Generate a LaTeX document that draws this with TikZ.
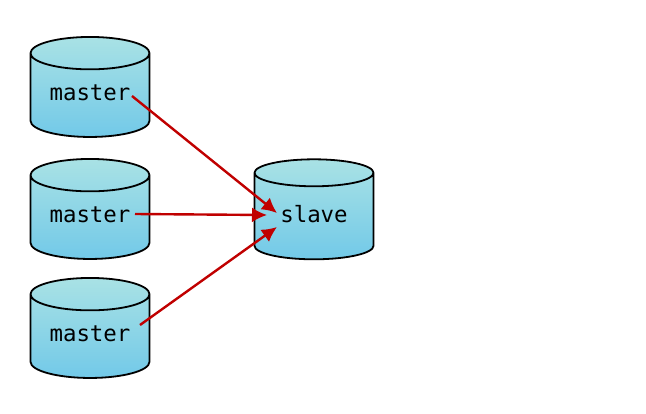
\documentclass[tikz,border=0pt]{standalone}
\usepackage{fontspec}
\setmonofont{DejaVu Sans Mono}
\usetikzlibrary{shapes.geometric,arrows.meta}
\definecolor{dbtop}{HTML}{A9E2E5}
\definecolor{dbbottom}{HTML}{72C9E8}
\definecolor{linkred}{HTML}{C00000}
\newcommand{\dblabel}[1]{\raisebox{5pt}{#1}}
\tikzset{
  dbnode/.style={cylinder,shape border rotate=90,aspect=0.4,draw=black,line width=1.8pt,
    minimum width=119pt,minimum height=100pt,inner sep=0pt,
    top color=dbtop,bottom color=dbbottom,font=\ttfamily\fontsize{22.4pt}{24pt}\selectfont},
  link/.style={draw=linkred,line width=2.4pt,-{Latex[length=15pt,width=15pt]}}
}
\begin{document}
\begin{tikzpicture}[x=1pt,y=-1pt]
      \useasboundingbox (0,0) rectangle (646,413);
      \node[dbnode] (master1) at (90,95.5) {\dblabel{master}};
      \node[dbnode] (master2) at (90,217.5) {\dblabel{master}};
      \node[dbnode] (master3) at (90,336.5) {\dblabel{master}};
      \node[dbnode] (slave) at (314,216.5) {\dblabel{slave}};
      \coordinate (from1) at (132,96);
      \coordinate (from2) at (135,214);
      \coordinate (from3) at (140,325);
      \coordinate (to1) at (277,213);
      \coordinate (to2) at (267,215);
      \coordinate (to3) at (277,227);
      \draw[link] (from1) to (to1);
      \draw[link] (from2) to (to2);
      \draw[link] (from3) to (to3);
    \end{tikzpicture}
\end{document}
